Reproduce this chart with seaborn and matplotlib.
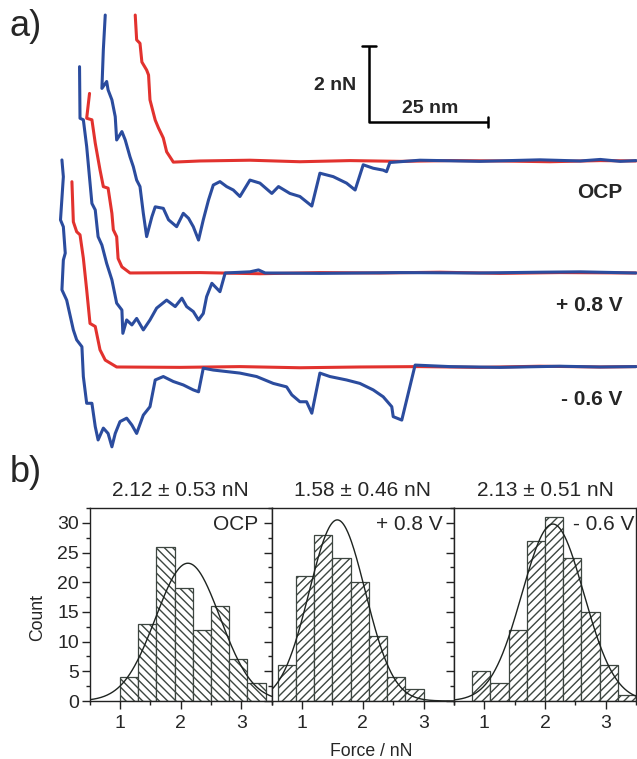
import matplotlib
matplotlib.use('Agg')
import matplotlib.pyplot as plt
from matplotlib.ticker import MultipleLocator
import numpy as np
import pandas as pd
import seaborn as sns

# ---- panel a: force curves, distance in nm, force in nN (0 = baseline of each pair)
ocp_red_x = [15.8, 16.1, 16.8, 17.2, 18.2, 18.6, 18.9, 20.0, 20.7, 21.4, 21.7, 22.4, 23.5, 23.8,
             29.4, 39.9, 50.4, 60.9, 71.4, 81.9, 92.4, 102.9, 113.5, 121.0]
ocp_red_y = [3.82, 3.17, 3.08, 2.59, 2.38, 2.25, 1.60, 1.07, 0.86, 0.68, 0.60, 0.24, 0.03, -0.03,
             0.00, 0.02, -0.02, 0.01, -0.01, 0.01, 0.00, -0.02, 0.01, 0.00]
ocp_blue_x = [9.5, 9.1, 8.8, 9.8, 10.1, 10.9, 11.6, 11.9, 13.0, 13.7, 14.7, 15.4, 16.1, 16.8, 17.5,
              18.2, 19.3, 20.0, 21.7, 22.8, 24.5, 25.9, 27.0, 28.0, 29.1, 30.1, 31.2, 32.2, 33.6,
              35.0, 36.4, 37.8, 39.9, 42.0, 44.5, 45.9, 48.3, 50.4, 51.8, 52.9, 54.6, 57.4, 60.2,
              62.0, 63.7, 65.8, 67.9, 68.6, 69.3, 75.6, 88.2, 100.8, 109.3, 113.5, 117.7, 121.0]
ocp_blue_y = [3.82, 2.91, 1.90, 2.08, 1.86, 1.60, 1.16, 0.55, 0.77, 0.55, 0.11, -0.15, -0.50, -0.67,
              -1.37, -1.98, -1.46, -1.20, -1.24, -1.54, -1.72, -1.37, -1.50, -1.72, -2.07, -1.54,
              -1.02, -0.63, -0.54, -0.67, -0.76, -0.93, -0.50, -0.58, -0.85, -0.67, -0.85, -0.93,
              -1.07, -1.18, -0.32, -0.41, -0.58, -0.76, -0.10, -0.19, -0.24, -0.28, -0.04, 0.02,
              -0.01, 0.03, 0.00, 0.04, -0.01, 0.01]

pos_red_x = [6.2, 5.6, 6.7, 7.4, 8.4, 9.1, 10.1, 10.9, 11.2, 11.9, 12.2, 13.0, 14.7,
             29.4, 42.0, 54.6, 67.2, 79.8, 92.4, 105.0, 121.0]
pos_red_y = [4.70, 4.05, 4.01, 3.40, 2.70, 2.26, 2.22, 1.56, 1.13, 0.95, 0.38, 0.16, 0.00,
             0.01, -0.02, 0.01, 0.00, 0.02, -0.01, 0.01, 0.00]
pos_blue_x = [4.1, 4.2, 4.9, 5.6, 6.7, 7.4, 8.0, 8.8, 9.8, 10.9, 11.9, 13.0, 13.2, 14.0, 15.1,
              16.1, 17.5, 18.9, 20.3, 22.4, 24.2, 25.6, 26.6, 28.0, 29.1, 30.1, 30.8, 31.9, 32.9,
              33.6, 34.7, 39.9, 41.7, 43.1, 54.6, 71.4, 88.2, 100.8, 109.3, 121.0]
pos_blue_y = [5.40, 4.05, 4.01, 3.31, 1.82, 1.65, 0.95, 0.73, 0.25, -0.18, -0.79, -0.97, -1.58,
              -1.23, -1.36, -1.19, -1.49, -1.23, -0.92, -0.71, -0.88, -0.66, -0.88, -1.01, -1.23,
              -1.06, -0.62, -0.27, -0.40, -0.49, 0.00, 0.03, 0.08, 0.00, -0.01, 0.01, 0.00, 0.02,
              0.03, 0.00]

neg_red_x = [2.5, 2.8, 3.5, 4.2, 4.9, 5.6, 6.3, 7.4, 8.4, 9.5, 11.9,
             25.2, 37.8, 50.4, 63.0, 75.6, 88.2, 100.8, 113.5, 121.0]
neg_red_y = [4.85, 3.80, 3.54, 3.46, 2.85, 2.02, 1.14, 1.06, 0.45, 0.18, 0.00,
             -0.01, 0.01, -0.02, 0.00, 0.01, -0.01, 0.02, 0.00, 0.01]
neg_blue_x = [0.4, 0.7, 0.1, 0.7, 1.1, 0.7, 0.4, 1.4, 2.8, 3.5, 4.6, 4.9, 5.6, 6.7, 7.4, 8.0, 9.1,
              10.1, 10.9, 11.6, 12.6, 14.0, 15.1, 16.1, 17.5, 18.9, 20.0, 21.7, 23.8, 25.9, 28.0,
              29.1, 30.1, 32.2, 35.0, 37.8, 41.3, 44.8, 47.6, 48.7, 50.4, 51.8, 52.9, 54.6, 56.7,
              60.2, 63.0, 65.8, 67.9, 69.7, 70.0, 71.8, 74.6, 81.9, 92.4, 105.0, 113.5, 121.0]
neg_blue_y = [5.42, 4.98, 3.85, 3.67, 2.98, 2.80, 2.02, 1.75, 0.97, 0.71, 0.53, -0.25, -0.95,
              -0.95, -1.56, -1.91, -1.60, -1.74, -2.09, -1.74, -1.43, -1.34, -1.52, -1.74, -1.26,
              -1.04, -0.34, -0.25, -0.38, -0.47, -0.60, -0.65, -0.03, -0.08, -0.12, -0.16, -0.25,
              -0.43, -0.52, -0.73, -0.91, -0.91, -1.21, -0.16, -0.25, -0.34, -0.43, -0.60, -0.78,
              -1.04, -1.30, -1.39, 0.05, 0.01, -0.01, 0.02, 0.00, 0.01]

conditions = ['OCP', '+ 0.8 V', '- 0.6 V']

# ---- panel b: rupture force histograms (bin width 0.3 nN)
bin_width = 0.3
ocp_start, ocp_counts = 1.0, [4, 13, 26, 19, 12, 16, 7, 3]
pos_start, pos_counts = 0.6, [6, 21, 28, 24, 20, 11, 4, 2]
neg_start, neg_counts = 0.8, [5, 3, 12, 27, 31, 24, 15, 6, 1]
fit_mean = [2.12, 1.58, 2.13]
fit_sd = [0.53, 0.46, 0.51]
fit_amp = [23.2, 30.5, 29.8]
titles = ['2.12 ± 0.53 nN', '1.58 ± 0.46 nN', '2.13 ± 0.51 nN']

RED = '#e2322e'
BLUE = '#2b4c9e'

sns.set_style('ticks')
plt.rcParams['font.family'] = ['Liberation Sans', 'DejaVu Sans']

fig = plt.figure(figsize=(6.37, 7.59), dpi=100)

# top panel
ax = fig.add_axes([0, 0.3808, 1, 0.6192])
ax.set_xlim(-12.61, 121.22)
ax.set_ylim(-2.696, 9.607)
ax.axis('off')

offsets = [5.393, 2.461, 0.0]
traces = [(ocp_red_x, ocp_red_y, ocp_blue_x, ocp_blue_y),
          (pos_red_x, pos_red_y, pos_blue_x, pos_blue_y),
          (neg_red_x, neg_red_y, neg_blue_x, neg_blue_y)]
label_y = [4.58, 1.60, -0.86]
for (rx, ry, bx, by), off, lab, ly in zip(traces, offsets, conditions, label_y):
    sns.lineplot(x=rx, y=np.array(ry) + off, sort=False, estimator=None,
                 color=RED, lw=2.2, ax=ax)
    sns.lineplot(x=bx, y=np.array(by) + off, sort=False, estimator=None,
                 color=BLUE, lw=2.2, ax=ax)
    ax.text(118.1, ly, lab, ha='right', va='center', fontsize=15, fontweight='bold')

# scale bar: 25 nm by 2 nN
sx, sy = 64.9, 6.41
ax.plot([sx, sx, sx + 25], [sy + 2, sy, sy], color='black', lw=1.8, solid_capstyle='butt')
ax.plot([sx - 1.5, sx + 1.5], [sy + 2, sy + 2], color='black', lw=1.8)
ax.plot([sx + 25, sx + 25], [sy - 0.14, sy + 0.14], color='black', lw=1.8)
ax.text(62.3, 7.36, '2 nN', ha='right', va='center', fontsize=14, fontweight='bold')
ax.text(77.7, 6.77, '25 nm', ha='center', va='center', fontsize=14, fontweight='bold')

fig.text(0.015, 0.988, 'a)', ha='left', va='top', fontsize=26)
fig.text(0.015, 0.400, 'b)', ha='left', va='top', fontsize=26)

# histograms
hist_data = [(ocp_start, ocp_counts, '\\\\\\\\'),
             (pos_start, pos_counts, '////'),
             (neg_start, neg_counts, '////')]
w = 182.2 / 637
x0 = 89.5 / 637
axes = []
for i, (start, counts, hatch) in enumerate(hist_data):
    hax = fig.add_axes([x0 + i * w, 58 / 759, w, 193 / 759])
    axes.append(hax)
    edges = start + bin_width * np.arange(len(counts) + 1)
    df = pd.DataFrame({'force': edges[:-1] + bin_width / 2, 'count': counts})
    sns.histplot(data=df, x='force', weights='count', bins=list(edges), ax=hax, color='white',
                 edgecolor='#3d4640', linewidth=0.9, hatch=hatch, alpha=1)
    xs = np.linspace(0.5, 3.5, 300)
    hax.plot(xs, fit_amp[i] * np.exp(-(xs - fit_mean[i]) ** 2 / (2 * fit_sd[i] ** 2)),
             color='#1e2420', lw=1.0)
    hax.set_xlim(0.5, 3.5)
    hax.set_ylim(0, 32.5)
    hax.set_xlabel('')
    hax.set_ylabel('')
    hax.xaxis.set_major_locator(MultipleLocator(1))
    hax.xaxis.set_minor_locator(MultipleLocator(0.5))
    hax.yaxis.set_major_locator(MultipleLocator(5))
    hax.yaxis.set_minor_locator(MultipleLocator(2.5))
    hax.tick_params(axis='x', which='major', direction='out', length=6, width=1,
                    labelsize=14, pad=4, color='#222222')
    hax.tick_params(axis='x', which='minor', direction='out', length=3, width=1, color='#222222')
    hax.tick_params(axis='y', which='major', direction='out', length=6, width=1,
                    labelsize=14, pad=1.5, labelleft=(i == 0), color='#222222')
    hax.tick_params(axis='y', which='minor', direction='out', length=3, width=1, color='#222222')
    for sp in hax.spines.values():
        sp.set_linewidth(1.0)
        sp.set_color('#222222')
    hax.text(0.5, 1.09, titles[i], transform=hax.transAxes, ha='center', va='center',
             fontsize=15)
    lab_x = [0.925, 0.940, 0.988][i]
    hax.text(lab_x, 0.912, conditions[i], transform=hax.transAxes, ha='right', va='center',
             fontsize=15)

axes[0].set_ylabel('Count', fontsize=12.7)
axes[0].yaxis.set_label_coords(-0.24, 0.435)
fig.text(371 / 637, 1 - 752 / 759, 'Force / nN', ha='center', va='center', fontsize=12.7)

fig.savefig('out.png', dpi=100)
